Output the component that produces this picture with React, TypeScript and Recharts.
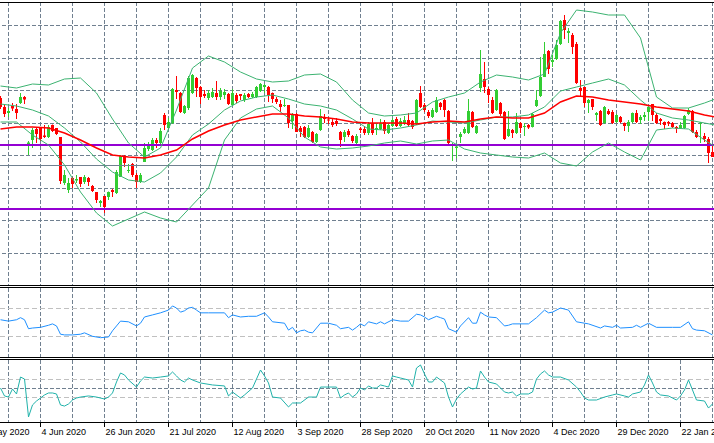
import React from "react";
import {
  ComposedChart,
  LineChart,
  Line,
  Bar,
  XAxis,
  YAxis,
  CartesianGrid,
  ReferenceLine,
} from "recharts";

// date labels, one every 16 bars (bar 0 = 13 May 2020)
const dateLabels = [
  "13 May 2020",
  "4 Jun 2020",
  "26 Jun 2020",
  "21 Jul 2020",
  "12 Aug 2020",
  "3 Sep 2020",
  "28 Sep 2020",
  "20 Oct 2020",
  "11 Nov 2020",
  "4 Dec 2020",
  "29 Dec 2020",
  "22 Jan 2021",
];
const labelBars = [0, 16, 32, 48, 64, 80, 96, 112, 128, 144, 160, 176];
const gridBars = [
  0, 8, 16, 24, 32, 40, 48, 56, 64, 72, 80, 88, 96, 104, 112, 120, 128, 136,
  144, 152, 160, 168, 176, 184,
];

// candles, bar 6 .. 184
const firstBar = 6;
const opens = [
  1302, 1293, 1287, 1294, 1291, 1297, 1303, 1255, 1260, 1271,
  1272, 1264.5, 1263, 1275, 1272, 1263, 1217, 1210, 1222, 1219.5,
  1223, 1218, 1222, 1214, 1208, 1197, 1204, 1203, 1210, 1207,
  1223, 1244, 1229, 1236, 1225, 1218, 1238, 1251, 1250, 1260,
  1257, 1285, 1272, 1277, 1310, 1307, 1287, 1292, 1307, 1322,
  1313, 1306, 1302, 1303, 1307, 1303, 1305, 1306, 1295, 1305,
  1306, 1300, 1306, 1303, 1303, 1309, 1313, 1313, 1307, 1301,
  1296, 1294, 1295, 1279, 1286, 1272, 1273, 1263, 1268, 1258,
  1270, 1283, 1280.5, 1278, 1279, 1268, 1263, 1269, 1264, 1257,
  1271.5, 1271, 1267, 1277, 1270, 1271, 1278, 1267, 1274, 1281,
  1274, 1277, 1280, 1279, 1276, 1307, 1295, 1288, 1283, 1288,
  1297, 1300, 1289, 1254, 1252, 1263, 1267, 1267, 1288, 1267,
  1312, 1321, 1311, 1300, 1290, 1297, 1288, 1264, 1270, 1267,
  1277, 1273, 1275, 1273, 1294, 1304, 1323, 1349, 1338, 1341,
  1356, 1380, 1367, 1365, 1356, 1312, 1313, 1297, 1301, 1285,
  1289, 1277, 1289, 1288, 1278, 1283, 1277, 1274, 1278, 1287,
  1280, 1283, 1288, 1296, 1285, 1281, 1278, 1278, 1277, 1273,
  1272, 1272, 1286, 1289, 1268, 1276.5, 1264, 1261, 1248,
];
const highs = [
  1304, 1295, 1292, 1297, 1296, 1307, 1304, 1259, 1272, 1272,
  1273, 1275, 1275, 1275.5, 1272, 1263, 1230, 1222, 1223, 1225,
  1223, 1225, 1223, 1215, 1208, 1200, 1204, 1208.5, 1211, 1230,
  1245, 1245, 1236, 1237, 1227, 1227, 1257, 1258, 1262, 1262,
  1272, 1287, 1282, 1312, 1324, 1308, 1295, 1324, 1326, 1323,
  1314, 1310, 1310, 1312, 1319, 1312, 1311, 1307, 1311, 1307,
  1306, 1307, 1307, 1308, 1314, 1317, 1316, 1314, 1307.5, 1303,
  1300, 1301, 1295, 1287, 1287, 1274, 1274, 1275, 1269, 1267,
  1291, 1286, 1283, 1282, 1282, 1269, 1270, 1271, 1265, 1266,
  1273, 1274, 1278, 1282, 1277, 1281, 1280, 1276, 1282, 1283,
  1282, 1284, 1287, 1280, 1301, 1314, 1297, 1290, 1292, 1303,
  1298, 1301, 1290, 1257, 1255, 1268, 1273, 1301, 1289, 1275,
  1350, 1338, 1313, 1303, 1311, 1298, 1289, 1289, 1271, 1287,
  1278, 1277, 1276, 1287, 1310, 1343, 1358, 1350, 1345, 1360,
  1380, 1385, 1372, 1367, 1358, 1320, 1313, 1301, 1301, 1288,
  1290, 1294, 1291, 1290, 1286, 1284, 1277.5, 1280, 1287.5, 1290,
  1285, 1288, 1295, 1296, 1287, 1282, 1278.5, 1279, 1278, 1274,
  1278, 1285, 1292, 1290, 1270, 1278, 1267, 1263, 1256,
];
const lows = [
  1291, 1283, 1283, 1289, 1281, 1296, 1296, 1245, 1252, 1257,
  1259, 1262, 1262, 1268, 1265, 1216, 1215, 1207, 1212, 1217,
  1213, 1216, 1214, 1208, 1197, 1193, 1187, 1200, 1203, 1206,
  1223, 1233, 1227, 1223, 1212, 1217, 1238, 1249, 1249, 1252,
  1256, 1270, 1272, 1276, 1301, 1287, 1286, 1290, 1306, 1303,
  1296, 1302, 1300, 1302, 1300, 1300, 1301, 1295, 1294, 1297,
  1300, 1298, 1302, 1302, 1302, 1308, 1307, 1298, 1297, 1296,
  1288, 1293, 1272, 1271, 1268, 1263, 1262, 1262, 1257, 1257,
  1269, 1277, 1276, 1273, 1274, 1253, 1258, 1263, 1257, 1256,
  1267, 1265, 1265, 1265, 1265, 1270, 1266, 1266, 1273, 1273,
  1273, 1275, 1273, 1271, 1275, 1292, 1288, 1282, 1282, 1287,
  1290, 1283, 1256, 1239, 1242, 1257, 1266, 1266, 1272, 1266,
  1308, 1307, 1297, 1286, 1289, 1284, 1260, 1263, 1262, 1266,
  1267, 1264, 1271, 1272.5, 1293, 1303, 1323, 1326, 1333, 1340,
  1355, 1361, 1357, 1346, 1316, 1303, 1293, 1287, 1290, 1279,
  1274, 1276, 1285, 1276, 1277, 1277, 1269, 1268, 1277, 1277,
  1276, 1279, 1279, 1279, 1276, 1275, 1271, 1274, 1272, 1267,
  1271, 1271, 1285, 1267, 1262, 1257, 1258, 1237, 1243,
];
const closes = [
  1293, 1286, 1289, 1291.5, 1287, 1303, 1300.5, 1257.5, 1270, 1266,
  1261, 1263, 1273, 1269, 1266, 1219, 1225, 1217, 1216, 1221,
  1216, 1223, 1218, 1209, 1200, 1199, 1193, 1208, 1208, 1228,
  1244, 1237, 1230, 1225, 1218, 1225, 1252, 1254, 1260, 1257,
  1269, 1275, 1278, 1311, 1308, 1288, 1294, 1322, 1325, 1312,
  1303, 1304, 1307, 1308, 1303, 1309, 1308, 1296, 1307, 1299,
  1304, 1305, 1303, 1306, 1313, 1316, 1315, 1305, 1301, 1298,
  1293, 1295, 1277, 1285, 1268, 1268, 1263, 1272, 1258, 1266,
  1284, 1281, 1279.5, 1275, 1276, 1260, 1268, 1265, 1259, 1264,
  1270, 1267, 1276, 1267, 1272, 1277, 1269, 1275, 1280, 1274,
  1279, 1280, 1275, 1273, 1300, 1293, 1290, 1284, 1290, 1300,
  1293, 1290, 1257, 1255.5, 1253.5, 1266, 1271, 1289, 1273, 1274,
  1326, 1313, 1305, 1287, 1310, 1286, 1261, 1271, 1267, 1278,
  1272, 1274, 1272.5, 1286, 1300, 1323, 1346, 1331, 1340, 1355,
  1379, 1370, 1369, 1353, 1317, 1309, 1297, 1300, 1293, 1287,
  1275, 1293, 1286, 1277, 1285, 1278, 1274, 1278, 1287, 1278,
  1283, 1285, 1293, 1285, 1277, 1279, 1275, 1276.5, 1273, 1271.5,
  1275, 1284, 1290, 1268, 1263, 1277.5, 1261, 1247, 1243,
];

// Bollinger bands and slow MA, read every 4 bars from bar 6
const bandFirstBar = 6;
const bandStep = 4;
const bbUpper = [
  1314, 1312, 1316, 1315, 1321, 1322, 1307, 1281, 1257, 1243,
  1252, 1290, 1332, 1344, 1338, 1328, 1321, 1318, 1319, 1325,
  1326, 1318, 1300, 1287, 1284, 1285, 1287, 1298, 1303, 1307,
  1318, 1325, 1323, 1320, 1326, 1367, 1390, 1388, 1385, 1385,
  1362, 1303, 1292, 1292, 1297, 1303,
];
const bbMiddle = [
  1296, 1294, 1290, 1284, 1272, 1258, 1241, 1228, 1220, 1218,
  1227, 1243, 1265, 1276, 1290, 1299, 1303, 1305, 1301, 1296,
  1294, 1290, 1281, 1271, 1270, 1272, 1275, 1279, 1278, 1277,
  1280, 1283, 1283, 1285, 1293, 1309, 1313, 1317, 1321, 1315,
  1300, 1287, 1282, 1280, 1277, 1274,
];
const bbLower = [
  1278, 1278, 1265, 1255, 1235, 1208, 1187, 1174, 1181, 1188,
  1182, 1178, 1195, 1212, 1260, 1282, 1291, 1294, 1282, 1263,
  1253, 1251, 1252, 1254, 1257, 1259, 1256, 1259, 1260, 1251,
  1247, 1245, 1243, 1242, 1247, 1237, 1234, 1248, 1257, 1248,
  1240, 1270, 1272, 1271, 1260, 1250,
];
const maSlow = [
  1271, 1273, 1273, 1272, 1267, 1260, 1252, 1245, 1243, 1242,
  1245, 1250, 1261, 1269, 1275, 1280, 1283, 1286, 1286, 1284,
  1283, 1281, 1278, 1277, 1277, 1277, 1276, 1278, 1279, 1278,
  1281, 1283, 1282, 1282, 1287, 1298, 1304, 1303, 1300, 1298,
  1296, 1293, 1291, 1289, 1285, 1282,
];

// price grid and horizontal levels
const priceGrid = [1147, 1179.5, 1212, 1244.5, 1277, 1309.5, 1342, 1374.5];
const levelLines = [1255, 1191];
const pivotLine = 1234.5;

// RSI panel
const rsiBars = [
  6, 8, 10, 11, 12, 13, 14, 16, 18, 19, 20, 21, 22, 24, 26, 27, 29, 31, 33, 34,
  35, 36, 38, 40, 41, 42, 44, 46, 48, 49, 50, 51, 52, 53, 54, 55, 56, 58, 62, 63,
  64, 66, 68, 70, 72, 73, 74, 77, 78, 79, 80, 81, 82, 83, 84, 85, 86, 88, 90, 91,
  93, 94, 95, 96, 97, 98, 100, 101, 102, 104, 106, 108, 110, 111, 112, 113, 115, 116, 117, 118,
  120, 121, 123, 124, 125, 126, 127, 128, 130, 132, 133, 134, 138, 140, 142, 143, 144, 146, 148, 150,
  153, 156, 157, 159, 160, 161, 164, 165, 166, 168, 170, 174, 176, 178, 179, 180, 182, 184,
];
const rsiValues = [
  54, 52, 54, 57, 54, 41, 42, 43, 46, 48, 45, 33, 32, 32, 33, 35, 30, 28, 29, 38,
  45, 52, 51, 45, 49, 58, 61, 64, 68, 74, 71, 65, 67, 71, 72, 68, 64, 64, 64, 57,
  61, 58, 59, 59, 64, 58, 51, 49, 39, 43, 35, 38, 39, 36, 35, 42, 49, 49, 46, 41,
  43, 39, 43, 48, 45, 51, 48, 51, 48, 54, 52, 52, 62, 61, 58, 54, 59, 57, 55, 41,
  36, 45, 57, 49, 49, 65, 61, 58, 57, 45, 46, 48, 48, 57, 68, 64, 65, 71, 68, 51,
  48, 42, 45, 43, 46, 42, 43, 46, 43, 49, 43, 43, 43, 51, 41, 39, 38, 32,
];

// oscillator panel
const oscBars = [
  6, 7, 8, 9, 10, 11, 12, 13, 14, 15, 16, 17, 18, 19, 20, 21, 22, 23, 24, 25,
  26, 28, 30, 32, 33, 34, 35, 36, 37, 38, 40, 41, 42, 44, 46, 48, 49, 50, 51, 52,
  53, 54, 56, 59, 62, 63, 64, 66, 67, 69, 71, 72, 73, 74, 76, 78, 79, 81, 83, 85,
  86, 90, 91, 92, 93, 94, 95, 96, 97, 98, 99, 100, 101, 102, 103, 104, 105, 106, 108, 109,
  110, 111, 112, 113, 114, 115, 117, 118, 119, 120, 121, 123, 124, 125, 126, 127, 128, 130, 132, 133,
  134, 135, 136, 138, 139, 140, 141, 142, 143, 144, 146, 148, 150, 151, 152, 153, 155, 157, 159, 160,
  162, 163, 164, 166, 167, 168, 169, 170, 171, 173, 174, 175, 176, 177, 178, 179, 180, 182, 183, 184,
];
const oscValues = [
  3, -85, -97, -8, -63, 125, 103, -318, -185, -141, -108, -74, -52, -52, -63, -185, -197, -174, -130, -108,
  -97, -85, -97, -119, -97, -52, 70, 170, 148, 92, 14, 81, 125, 114, 125, 137, 181, 137, 92, 70,
  114, 92, 59, 37, 26, -85, -41, -108, -74, 3, 203, 137, 59, -97, -108, -207, -163, -163, -97, -97,
  14, 14, -108, -74, -52, -97, -63, 3, -19, 26, 3, 3, 37, 26, 14, 137, 125, 114, 92, 14,
  225, 259, 159, 70, 70, 125, 59, -97, -207, -119, -63, 14, -8, 3, 192, 125, 70, 48, -41, -52,
  -41, -85, -63, -63, -41, 103, 159, 192, 148, 125, 125, 92, 14, -41, -108, -130, -130, -97, -74, -63,
  -85, -97, -63, -41, 37, 148, 59, -41, -74, -85, -108, -130, -85, -19, 92, -19, -130, -141, -219, -174,
];

const UP = "#32cd32";
const DOWN = "#ff0000";
const GRID = "#708090";
const SILVER = "#c0c0c0";
const BAND = "#3cb371";

const CHART_W = 760;
const X_DOMAIN: [number, number] = [-4.125, 185.875];

type Row = { k: number; [key: string]: any };

const rowMap = new Map<number, Row>();
const rowAt = (k: number) => {
  if (!rowMap.has(k)) rowMap.set(k, { k });
  return rowMap.get(k)!;
};
opens.forEach((o, i) => {
  const r = rowAt(firstBar + i);
  r.open = o;
  r.high = highs[i];
  r.low = lows[i];
  r.close = closes[i];
  r.range = [lows[i], highs[i]];
});
bbUpper.forEach((v, i) => {
  const r = rowAt(bandFirstBar + i * bandStep);
  r.upper = v;
  r.middle = bbMiddle[i];
  r.lower = bbLower[i];
  r.ma = maSlow[i];
});
const mainData = [...rowMap.values()].sort((a, b) => a.k - b.k);
const rsiData = rsiBars.map((k, i) => ({ k, rsi: rsiValues[i] }));
const oscData = oscBars.map((k, i) => ({ k, osc: oscValues[i] }));

const labelAt = new Map<number, string>();
labelBars.forEach((k, i) => labelAt.set(k, dateLabels[i]));

// one candle: the bar covers low..high, open/close placed on the same scale
const Candle = (props: any) => {
  const { x, y, width, height, payload } = props;
  if (!payload || payload.open == null || !isFinite(y)) return <g />;
  const { open, close, high, low } = payload;
  const perUnit = high > low ? height / (high - low) : 0;
  const at = (v: number) => y + (high - v) * perUnit;
  const cx = Math.round(x + width / 2 - 0.5) + 0.5;
  const color = close >= open ? UP : DOWN;
  const top = at(Math.max(open, close));
  const bodyH = Math.max(1, Math.abs(open - close) * perUnit);
  return (
    <g>
      <line x1={cx} x2={cx} y1={y} y2={y + height} stroke={color} strokeWidth={1} />
      <rect x={cx - 1.5} y={top} width={3} height={bodyH} fill={color} />
    </g>
  );
};

const DateTick = (props: any) => {
  const { x, y, payload } = props;
  const label = labelAt.get(payload.value);
  if (!label) return <g />;
  const px = Math.round(x - 0.5) + 0.5;
  return (
    <g>
      <line x1={px} x2={px} y1={y} y2={y + 5} stroke="#000" />
      <text
        x={px + 1}
        y={y + 13}
        fill="#000"
        fontSize={9}
        fontFamily="'Liberation Sans', Arial, sans-serif"
      >
        {label}
      </text>
    </g>
  );
};

const hLine = (top: number) => (
  <div
    style={{
      position: "absolute",
      left: 0,
      top,
      width: 714,
      height: 1,
      background: "#000",
    }}
  />
);

export default function App() {
  return (
    <div
      style={{
        position: "fixed",
        left: 0,
        top: 0,
        width: 714,
        height: 443,
        overflow: "hidden",
        background: "#fff",
      }}
    >
      <style>{`.recharts-cartesian-grid line, .recharts-reference-line line { shape-rendering: crispEdges; }`}</style>

      {/* price panel */}
      <div style={{ position: "absolute", left: -40, top: 2 }}>
        <ComposedChart
          width={CHART_W}
          height={284}
          data={mainData}
          margin={{ top: 0, right: 0, bottom: 0, left: 0 }}
        >
          <XAxis
            dataKey="k"
            type="number"
            domain={X_DOMAIN}
            ticks={gridBars}
            allowDataOverflow
            hide
          />
          <YAxis
            type="number"
            domain={[1114, 1398]}
            ticks={priceGrid}
            allowDataOverflow
            hide
          />
          <CartesianGrid stroke={GRID} strokeDasharray="4 2" />
          <ReferenceLine y={pivotLine} stroke={GRID} strokeWidth={1} />
          {levelLines.map((v) => (
            <ReferenceLine key={v} y={v} stroke="#9400d3" strokeWidth={2} />
          ))}
          <Line dataKey="upper" stroke={BAND} strokeWidth={1} dot={false} connectNulls isAnimationActive={false} />
          <Line dataKey="middle" stroke={BAND} strokeWidth={1} dot={false} connectNulls isAnimationActive={false} />
          <Line dataKey="lower" stroke={BAND} strokeWidth={1} dot={false} connectNulls isAnimationActive={false} />
          <Line dataKey="ma" stroke="#ff0000" strokeWidth={1.5} dot={false} connectNulls isAnimationActive={false} />
          <Bar dataKey="range" barSize={3} shape={<Candle />} isAnimationActive={false} />
        </ComposedChart>
      </div>

      {/* RSI panel */}
      <div style={{ position: "absolute", left: -40, top: 288 }}>
        <LineChart
          width={CHART_W}
          height={69}
          data={rsiData}
          margin={{ top: 0, right: 0, bottom: 0, left: 0 }}
        >
          <XAxis
            dataKey="k"
            type="number"
            domain={X_DOMAIN}
            ticks={gridBars}
            allowDataOverflow
            hide
          />
          <YAxis type="number" domain={[0, 100]} allowDataOverflow hide />
          <CartesianGrid stroke={GRID} strokeDasharray="4 2" horizontal={false} />
          <ReferenceLine y={70} stroke={SILVER} strokeDasharray="5 3" />
          <ReferenceLine y={30} stroke={SILVER} strokeDasharray="5 3" />
          <Line dataKey="rsi" stroke="#1e90ff" strokeWidth={1} dot={false} isAnimationActive={false} />
        </LineChart>
      </div>

      {/* oscillator panel with the date axis */}
      <div style={{ position: "absolute", left: -40, top: 360 }}>
        <LineChart
          width={CHART_W}
          height={83}
          data={oscData}
          margin={{ top: 0, right: 0, bottom: 0, left: 0 }}
        >
          <XAxis
            dataKey="k"
            type="number"
            domain={X_DOMAIN}
            ticks={gridBars}
            allowDataOverflow
            height={21}
            axisLine={false}
            tickLine={false}
            tickSize={0}
            tickMargin={0}
            interval={0}
            tick={<DateTick />}
          />
          <YAxis type="number" domain={[-374, 314]} allowDataOverflow hide />
          <CartesianGrid stroke={GRID} strokeDasharray="4 2" horizontal={false} />
          <ReferenceLine y={100} stroke={SILVER} strokeDasharray="5 3" />
          <ReferenceLine y={0} stroke={GRID} strokeDasharray="4 2" />
          <ReferenceLine y={-100} stroke={SILVER} strokeDasharray="5 3" />
          <Line dataKey="osc" stroke="#20b2aa" strokeWidth={1} dot={false} isAnimationActive={false} />
        </LineChart>
      </div>

      {hLine(2)}
      {hLine(285)}
      {hLine(287)}
      {hLine(357)}
      {hLine(359)}
      {hLine(422)}
    </div>
  );
}
